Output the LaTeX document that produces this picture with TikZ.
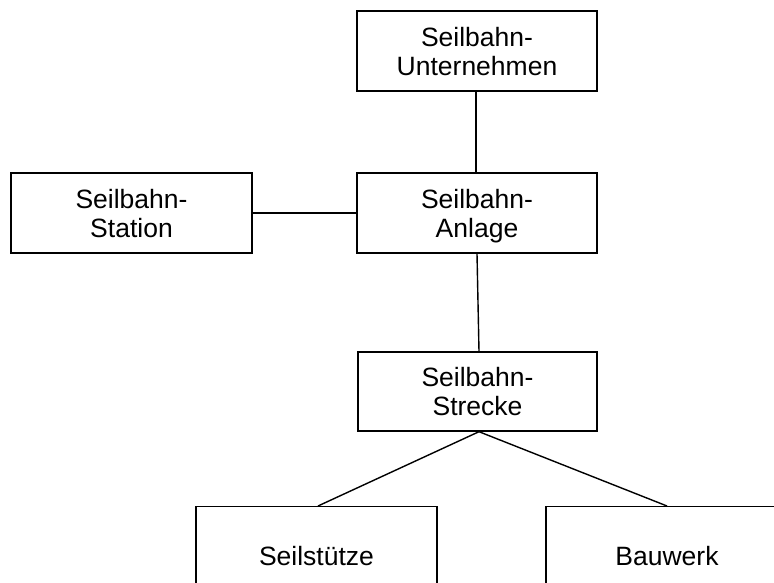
\documentclass[tikz,border=0pt]{standalone}
\usepackage{fontspec}
\setmainfont{Liberation Sans}
\newcommand\twolines[2]{\rule{0pt}{19pt}#1\\\smash{#2}}
\begin{document}
\begin{tikzpicture}[x=1pt,y=-1pt,
  box/.style={draw=black, line width=1.4pt, fill=white, align=center, inner sep=0pt,
    font=\fontsize{26.5}{29}\selectfont},
  link/.style={draw=black, line width=1.4pt}]
\useasboundingbox (0,0) rectangle (774,583);
\clip (0,0) rectangle (774,583);
\node[box, minimum width=240pt, minimum height=80pt] (U) at (477,51) {\twolines{Seilbahn-}{Unternehmen}};
\node[box, minimum width=241pt, minimum height=80pt] (St) at (131.5,213) {\twolines{Seilbahn-}{Station}};
\node[box, minimum width=240pt, minimum height=80pt] (A) at (477,213) {\twolines{Seilbahn-}{Anlage}};
\node[box, minimum width=239pt, minimum height=79pt] (S) at (477.5,391.5) {\twolines{Seilbahn-}{Strecke}};
\node[box, anchor=north, minimum width=241pt, minimum height=98pt] (Su) at (316.5,506) {Seilstütze};
\node[box, anchor=north, minimum width=242pt, minimum height=98pt] (B) at (667,506) {Bauwerk};
\draw[link] ([xshift=-1pt]U.south) -- ([xshift=-1pt]A.north);
\draw[link] (St.east) -- (A.west);
\draw[link] (A.south) -- ([xshift=1.5pt]S.north);
\draw[link] ([xshift=1.5pt]S.south) -- ([xshift=1.5pt]Su.north);
\draw[link] ([xshift=1.5pt]S.south) -- (B.north);
\end{tikzpicture}
\end{document}
